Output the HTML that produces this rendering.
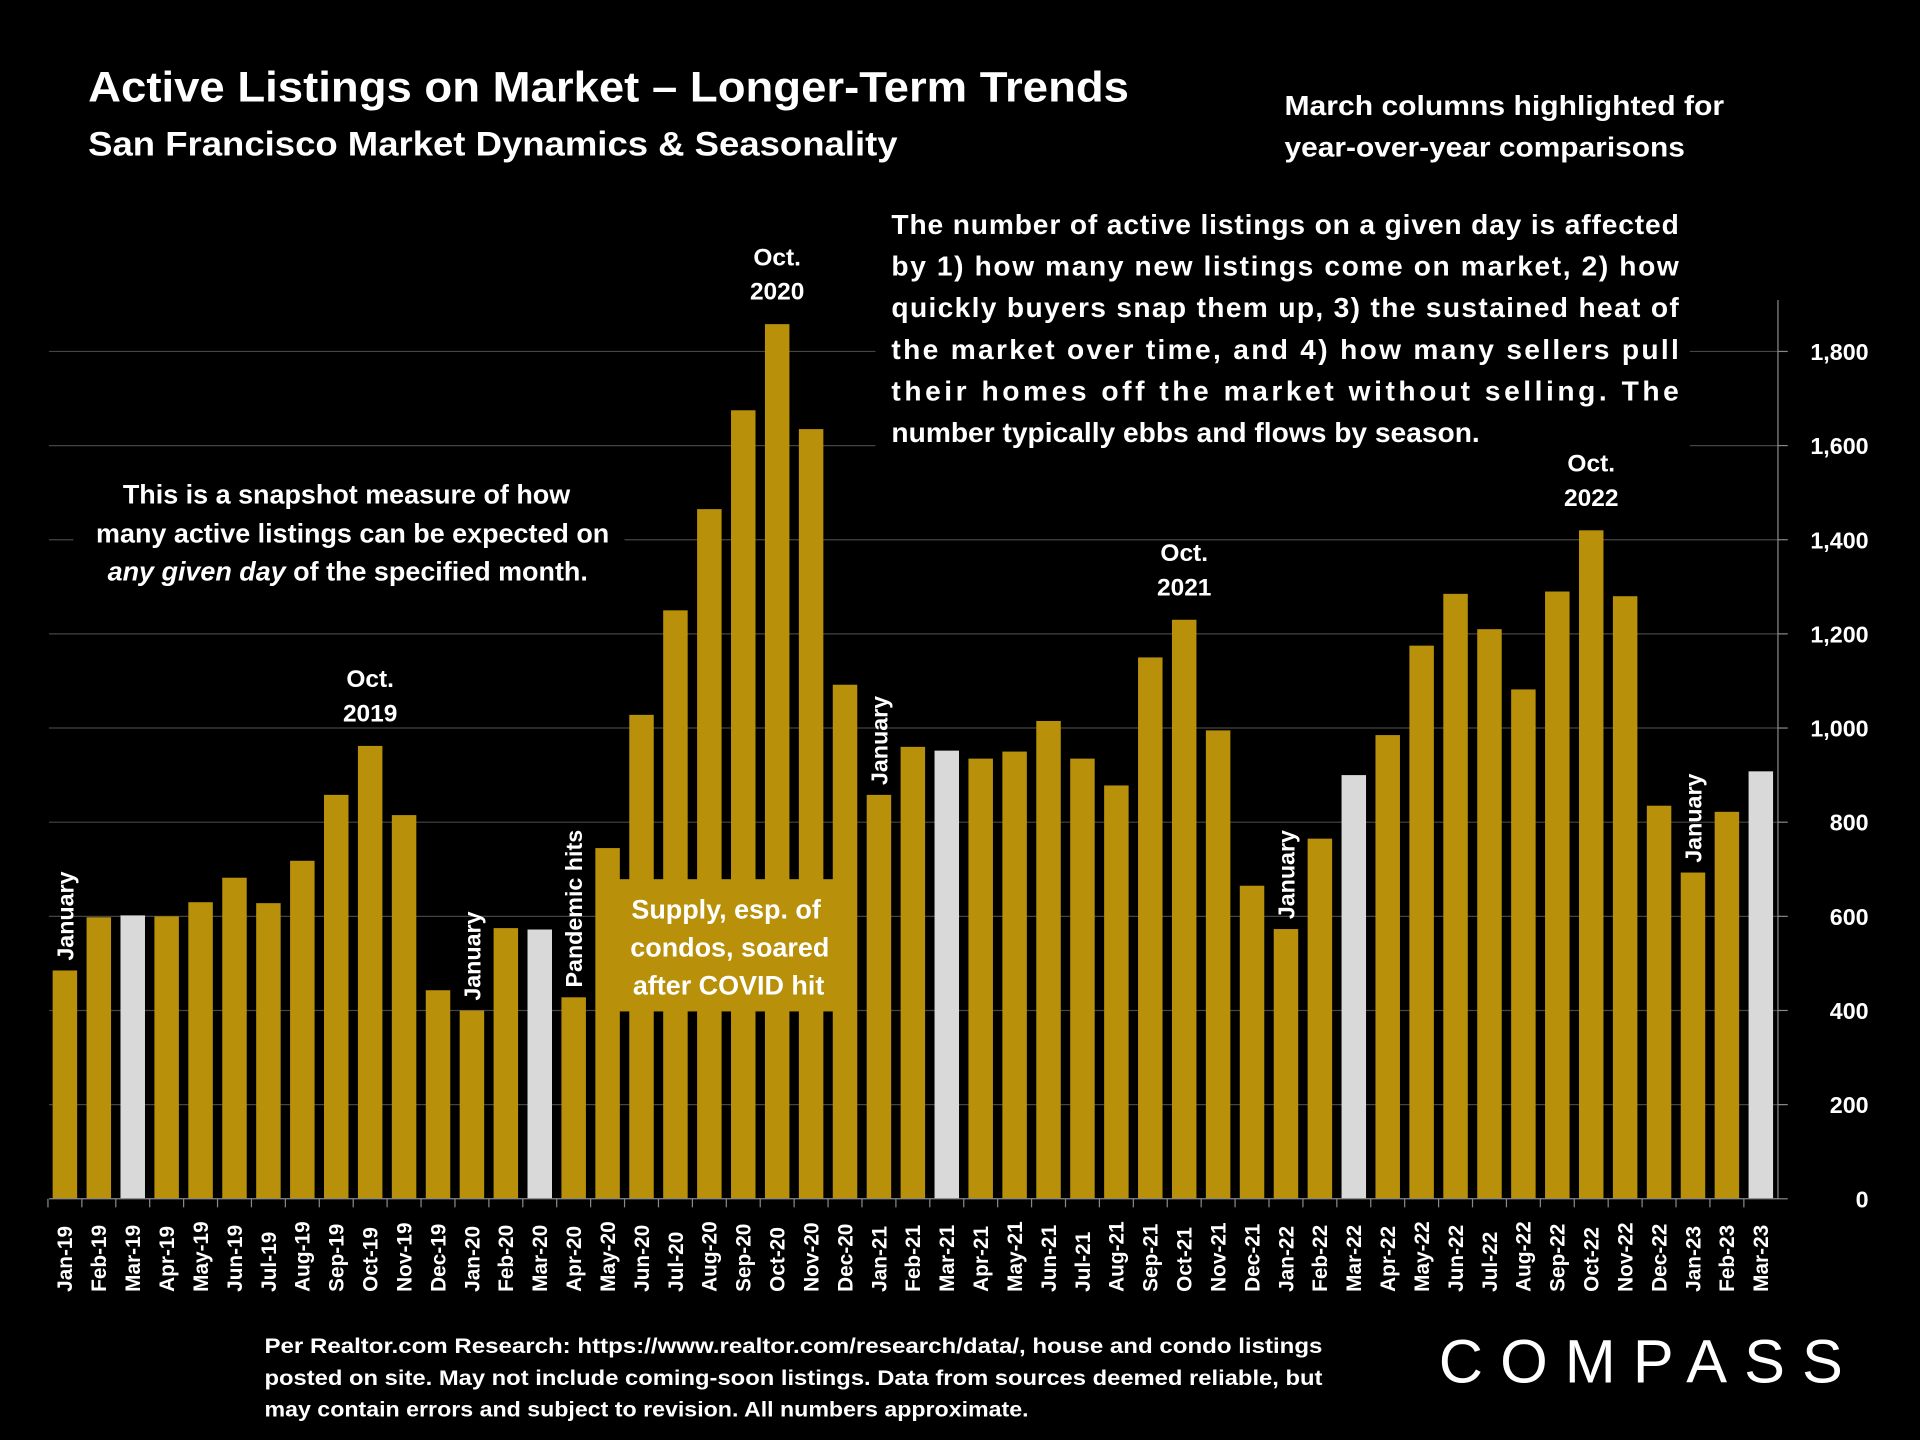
<!DOCTYPE html>
<html><head><meta charset="utf-8"><style>
html,body{margin:0;padding:0;background:#000;}
svg{display:block;}
text{font-family:"Liberation Sans","DejaVu Sans",sans-serif;fill:#fff;font-weight:bold;}
</style></head><body>
<svg id="chart" width="1920" height="1440" viewBox="0 0 1568 1176" xmlns="http://www.w3.org/2000/svg">
<rect x="0" y="0" width="1568" height="1176" fill="#000"/>
<g id="grid"></g>
<g id="bars"></g>
<g id="axis"></g>
<g id="xlabels"></g>

<text x="72" y="83" font-size="35" textLength="850" lengthAdjust="spacingAndGlyphs">Active Listings on Market – Longer-Term Trends</text>
<text x="72" y="127" font-size="28" textLength="661" lengthAdjust="spacingAndGlyphs">San Francisco Market Dynamics &amp; Seasonality</text>
<text font-size="23"><tspan x="1049" y="94" textLength="359" lengthAdjust="spacingAndGlyphs">March columns highlighted for</tspan><tspan x="1049" y="128" textLength="327" lengthAdjust="spacingAndGlyphs">year-over-year comparisons</tspan></text>

<rect x="715" y="165" width="665" height="205" fill="#000"/>
<g font-size="23">
<text x="728" y="191" textLength="643" lengthAdjust="spacing">The number of active listings on a given day is affected</text>
<text x="728" y="225" textLength="643" lengthAdjust="spacing">by 1) how many new listings come on market, 2) how</text>
<text x="728" y="259" textLength="643" lengthAdjust="spacing">quickly buyers snap them up, 3) the sustained heat of</text>
<text x="728" y="293" textLength="643" lengthAdjust="spacing">the market over time, and 4) how many sellers pull</text>
<text x="728" y="327" textLength="643" lengthAdjust="spacing">their homes off the market without selling. The</text>
<text x="728" y="361">number typically ebbs and flows by season.</text>
</g>

<rect x="60" y="380" width="450" height="100" fill="#000"/>
<text font-size="22" text-anchor="middle"><tspan x="283" y="411">This is a snapshot measure of how</tspan><tspan x="288" y="443">many active listings can be expected on</tspan><tspan x="284" y="474"><tspan font-style="italic">any given day</tspan> of the specified month.</tspan></text>

<rect x="497" y="718" width="190" height="108" fill="#B8900A"/>
<text font-size="22" text-anchor="middle"><tspan x="593" y="750">Supply, esp. of</tspan><tspan x="596" y="781">condos, soared</tspan><tspan x="595" y="812">after COVID hit</tspan></text>

<g id="annos" font-size="20" text-anchor="middle"></g>

<text font-size="17.5"><tspan x="216" y="1105" textLength="864" lengthAdjust="spacingAndGlyphs">Per Realtor.com Research:  https://www.realtor.com/research/data/, house and condo listings</tspan><tspan x="216" y="1131" textLength="864" lengthAdjust="spacingAndGlyphs">posted on site. May not include coming-soon listings. Data from sources deemed reliable, but</tspan><tspan x="216" y="1157" textLength="624" lengthAdjust="spacingAndGlyphs">may contain errors and subject to revision. All numbers approximate.</tspan></text>
<text x="1175" y="1129" font-size="50" style="font-weight:normal" textLength="330" lengthAdjust="spacing">COMPASS</text>
</svg>
<script>
const categories=["Jan-19","Feb-19","Mar-19","Apr-19","May-19","Jun-19","Jul-19","Aug-19","Sep-19","Oct-19","Nov-19","Dec-19","Jan-20","Feb-20","Mar-20","Apr-20","May-20","Jun-20","Jul-20","Aug-20","Sep-20","Oct-20","Nov-20","Dec-20","Jan-21","Feb-21","Mar-21","Apr-21","May-21","Jun-21","Jul-21","Aug-21","Sep-21","Oct-21","Nov-21","Dec-21","Jan-22","Feb-22","Mar-22","Apr-22","May-22","Jun-22","Jul-22","Aug-22","Sep-22","Oct-22","Nov-22","Dec-22","Jan-23","Feb-23","Mar-23"];
const listings=[485,598,602,600,630,682,628,718,858,962,815,443,400,575,572,428,745,1028,1250,1465,1675,1858,1635,1092,858,960,952,935,950,1015,935,878,1150,1230,995,665,573,765,900,985,1175,1285,1210,1082,1290,1420,1280,835,693,822,908];
const yTicks=[0,200,400,600,800,1000,1200,1400,1600,1800];
const yTickLabels=["0","200","400","600","800","1,000","1,200","1,400","1,600","1,800"];
const annoTop=[["Oct.","2019",9],["Oct.","2020",21],["Oct.","2021",33],["Oct.","2022",45]];
const annoSide=[["January",0],["January",12],["Pandemic hits",15],["January",24],["January",36],["January",48]];

const NS="http://www.w3.org/2000/svg";
const y0=979,yScale=(979-287)/1800,x0=53,step=(1438-53)/50,bw=20;
const yPos=v=>y0-v*yScale, xPos=i=>x0+i*step;
function mk(t,a,p){const e=document.createElementNS(NS,t);for(const k in a)e.setAttribute(k,a[k]);p.appendChild(e);return e;}
const grid=document.getElementById('grid'),bars=document.getElementById('bars'),axis=document.getElementById('axis'),xl=document.getElementById('xlabels'),annos=document.getElementById('annos');
yTicks.forEach((t,i)=>{
  if(t>0){const g=mk('line',{x1:40,x2:1452,y1:yPos(t),y2:yPos(t),stroke:'#444','stroke-width':1},grid);
  
  }
  const tk=mk('line',{x1:1452,x2:1460,y1:yPos(t),y2:yPos(t),stroke:'#888'},axis);
  
  
  const lb=mk('text',{x:1526,y:yPos(t)+7,'font-size':19,'text-anchor':'end'},axis);lb.textContent=yTickLabels[i];
  
  
});
mk('line',{x1:1452,x2:1452,y1:245,y2:yPos(0),stroke:'#888'},axis);
mk('line',{x1:40,x2:1452,y1:yPos(0),y2:yPos(0),stroke:'#888'},axis);
categories.forEach((c,i)=>{
  const v=listings[i],x=xPos(i);
  const hl=c.startsWith('Mar');
  const r=mk('rect',{x:x-bw/2,y:yPos(v),width:bw,height:y0-yPos(v),fill:hl?'#D9D9D9':'#B8900A'},bars);
  
  
  mk('line',{x1:x-step/2,x2:x-step/2,y1:y0,y2:y0+7,stroke:'#888'},axis);
  const t=mk('text',{transform:`translate(${x+6},1055) rotate(-90)`,'font-size':17},xl);t.textContent=c;
  
  
});
annoTop.forEach(a=>{const x=xPos(a[2]),v=listings[a[2]];
  const t=mk('text',{x:x,y:yPos(v)-48,'font-size':20},annos);t.textContent=a[0];
  
  
  const t2=mk('text',{x:x,y:yPos(v)-20,'font-size':20},annos);t2.textContent=a[1];
  
  });
annoSide.forEach(a=>{const x=xPos(a[1]),v=listings[a[1]];
  const t=mk('text',{transform:`translate(${x+7},${yPos(v)-8}) rotate(-90)`,'font-size':19,'text-anchor':'start'},annos);t.textContent=a[0];
  
  });
</script>
</body></html>
